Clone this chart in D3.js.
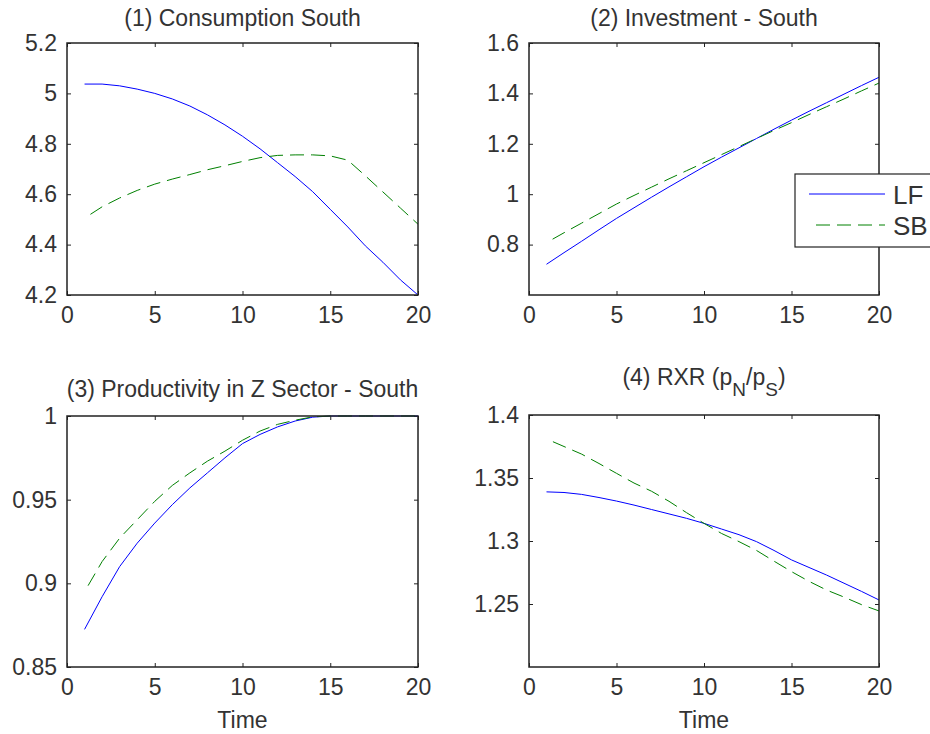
<!DOCTYPE html>
<meta charset="utf-8">
<style>
  body { margin: 0; background: #fff; }
  text { font-family: "Liberation Sans", Arial, sans-serif; fill: #333; }
</style>
<script src="https://d3js.org/d3.v7.min.js"></script>
<div id="chart"></div>
<script>
// time axis
var time = d3.range(1, 21);
var xTicks = [0, 5, 10, 15, 20];

// (1) Consumption South
var consLF = [5.037, 5.037, 5.03, 5.017, 5.0, 4.978, 4.95, 4.915, 4.875, 4.83,
              4.78, 4.725, 4.67, 4.61, 4.54, 4.47, 4.395, 4.33, 4.26, 4.20];
var consSB = [4.505, 4.55, 4.585, 4.615, 4.64, 4.66, 4.678, 4.697, 4.713, 4.73,
              4.745, 4.754, 4.756, 4.756, 4.752, 4.735, 4.673, 4.609, 4.545, 4.481];
// (2) Investment - South
var invLF = [0.722, 0.768, 0.813, 0.859, 0.904, 0.946, 0.988, 1.029, 1.069, 1.109,
             1.147, 1.184, 1.221, 1.258, 1.294, 1.329, 1.363, 1.397, 1.431, 1.464];
var invSB = [0.808, 0.847, 0.885, 0.923, 0.961, 0.995, 1.028, 1.061, 1.093, 1.125,
             1.157, 1.189, 1.221, 1.253, 1.284, 1.316, 1.347, 1.378, 1.41, 1.441];
// (3) Productivity in Z sector - South
var prodLF = [0.8725, 0.892, 0.910, 0.924, 0.936, 0.947, 0.957, 0.966, 0.975, 0.9835,
              0.989, 0.9935, 0.997, 0.9993, 1.0, 1.0, 1.0, 1.0, 1.0, 1.0];
var prodSB = [0.895, 0.913, 0.927, 0.938, 0.949, 0.9585, 0.966, 0.973, 0.979, 0.9855,
              0.991, 0.995, 0.9975, 0.9995, 1.0, 1.0, 1.0, 1.0, 1.0, 1.0];
// (4) RXR
var rxrLF = [1.339, 1.3385, 1.337, 1.3345, 1.3317, 1.3285, 1.325, 1.3215, 1.318, 1.314,
             1.3095, 1.305, 1.2995, 1.2925, 1.285, 1.279, 1.273, 1.2665, 1.26, 1.2532];
var rxrSB = [1.381, 1.375, 1.369, 1.3615, 1.3537, 1.346, 1.3395, 1.3315, 1.3225, 1.314,
             1.306, 1.2995, 1.2925, 1.284, 1.2757, 1.268, 1.2611, 1.2555, 1.2495, 1.2445];

var yDomains = [[4.2, 5.2], [0.6, 1.6], [0.85, 1.0], [1.2, 1.4]];
var yTicks = [[4.2, 4.4, 4.6, 4.8, 5.0, 5.2], [0.8, 1.0, 1.2, 1.4, 1.6],
              [0.85, 0.9, 0.95, 1.0], [1.25, 1.3, 1.35, 1.4]];
var seriesNames = ["LF", "SB"];

var panels = [
  {title: "(1) Consumption South", lf: consLF, sb: consSB, x0: 67, x1: 418, y0: 43, y1: 295, tY: 26, xlabel: false},
  {title: "(2) Investment - South", lf: invLF, sb: invSB, x0: 529, x1: 879, y0: 43, y1: 295, tY: 26, xlabel: false},
  {title: "(3) Productivity in Z Sector - South", lf: prodLF, sb: prodSB, x0: 67, x1: 418, y0: 416, y1: 667, tY: 397, xlabel: true},
  {title: null, lf: rxrLF, sb: rxrSB, x0: 529, x1: 879, y0: 415, y1: 667, tY: 385, xlabel: true}
];

var svg = d3.select("#chart").append("svg")
    .attr("width", 930)
    .attr("height", 734);

var fmt = function(d) { return d3.format("")(+d.toFixed(2)); };

panels.forEach(function(p, i) {
  var x = d3.scaleLinear().domain([0, 20]).range([p.x0, p.x1]);
  var y = d3.scaleLinear().domain(yDomains[i]).range([p.y1, p.y0]);

  var g = svg.append("g");

  // ticks and labels (MATLAB style: ticks inward on all sides)
  var bottom = g.append("g").attr("transform", "translate(0," + p.y1 + ")")
    .call(d3.axisBottom(x).tickValues(xTicks).tickSize(-4).tickPadding(12));
  var top = g.append("g").attr("transform", "translate(0," + p.y0 + ")")
    .call(d3.axisTop(x).tickValues(xTicks).tickSize(-4).tickFormat(""));
  var left = g.append("g").attr("transform", "translate(" + p.x0 + ",0)")
    .call(d3.axisLeft(y).tickValues(yTicks[i]).tickSize(-4).tickPadding(10).tickFormat(fmt));
  var right = g.append("g").attr("transform", "translate(" + p.x1 + ",0)")
    .call(d3.axisRight(y).tickValues(yTicks[i]).tickSize(-4).tickFormat(""));

  [bottom, top, left, right].forEach(function(a) {
    a.select(".domain").remove();
    a.selectAll("line").attr("stroke", "#222");
    a.selectAll("text").attr("font-size", 23).attr("fill", "#333")
      .attr("font-family", "Liberation Sans, Arial, sans-serif");
  });

  var line = d3.line()
    .x(function(d, j) { return x(time[j]); })
    .y(function(d) { return y(d); });

  g.append("path").datum(p.lf)
    .attr("d", line)
    .attr("fill", "none")
    .attr("stroke", "#0000ff")
    .attr("stroke-width", 1);

  g.append("path").datum(p.sb)
    .attr("d", line)
    .attr("fill", "none")
    .attr("stroke", "#008000")
    .attr("stroke-width", 1)
    .attr("stroke-dasharray", "14,7")
    .attr("stroke-dashoffset", 14);

  // axes box on top
  g.append("rect")
    .attr("x", p.x0).attr("y", p.y0)
    .attr("width", p.x1 - p.x0).attr("height", p.y1 - p.y0)
    .attr("fill", "none")
    .attr("stroke", "#222")
    .attr("stroke-width", 1.5);

  var cx = (p.x0 + p.x1) / 2;
  if (p.title) {
    g.append("text").attr("x", cx).attr("y", p.tY)
      .attr("text-anchor", "middle").attr("font-size", 23)
      .text(p.title);
  } else {
    var t = g.append("text").attr("x", cx).attr("y", p.tY)
      .attr("text-anchor", "middle").attr("font-size", 23);
    t.append("tspan").text("(4) RXR (p");
    t.append("tspan").attr("dy", 11).attr("font-size", 19).text("N");
    t.append("tspan").attr("dy", -11).text("/p");
    t.append("tspan").attr("dy", 11).attr("font-size", 19).text("S");
    t.append("tspan").attr("dy", -11).text(")");
  }

  if (p.xlabel) {
    g.append("text").attr("x", cx).attr("y", 728)
      .attr("text-anchor", "middle").attr("font-size", 23)
      .text("Time");
  }
});

// legend (sits over panel 2, partly outside the window)
var legend = svg.append("g");
legend.append("rect")
  .attr("x", 795).attr("y", 174)
  .attr("width", 170).attr("height", 73)
  .attr("fill", "#fff").attr("stroke", "#222").attr("stroke-width", 1.2);

seriesNames.forEach(function(name, k) {
  var ly = 194 + k * 31;
  legend.append("line")
    .attr("x1", 809).attr("x2", 885).attr("y1", ly).attr("y2", ly)
    .attr("stroke", k === 0 ? "#0000ff" : "#008000")
    .attr("stroke-width", 1)
    .attr("stroke-dasharray", k === 0 ? null : "14,7")
    .attr("stroke-dashoffset", k === 0 ? null : 14);
  legend.append("text")
    .attr("x", 893).attr("y", ly + 10)
    .attr("font-size", 26)
    .text(name);
});
</script>
